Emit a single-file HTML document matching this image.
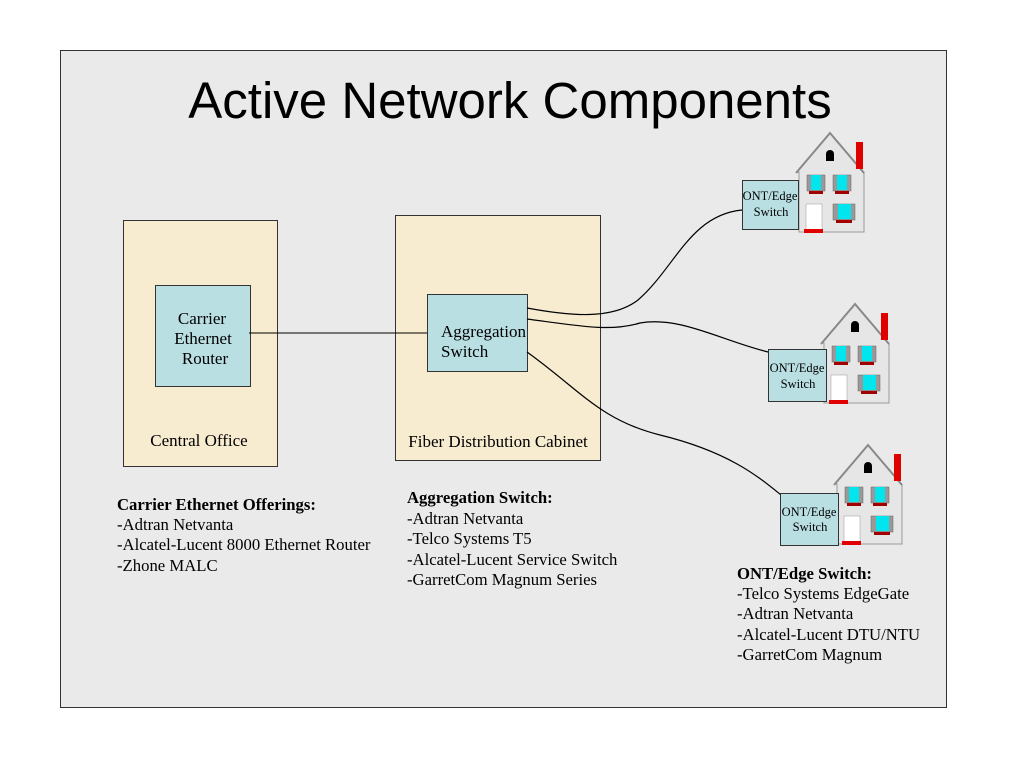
<!DOCTYPE html>
<html><head><style>
body{margin:0;background:#fff;width:1024px;height:768px;overflow:hidden}
svg text{font-family:"Liberation Serif",serif}
</style></head><body>
<svg width="1024" height="768" viewBox="0 0 1024 768">
<defs>
<g id="house">
<polygon points="0,0 -33,39 -31,39 -31,99 34,99 34,39 33,39" fill="#e6e6e6" stroke="#999" stroke-width="1"/>
<polyline points="-34,40 0,0 34,40" fill="none" stroke="#888" stroke-width="2"/>
<rect x="26" y="9" width="7" height="27" fill="#e00000"/>
<path d="M-4,28 V21 A4,4 0 0 1 4,21 V28 Z" fill="#000"/>
<rect x="-23" y="42" width="18" height="16" fill="#999" stroke="#666" stroke-width="0.5"/><rect x="-19" y="42" width="10" height="15" fill="#00e5ee"/><rect x="-21" y="58" width="14" height="3" fill="#a00000"/>
<rect x="3" y="42" width="18" height="16" fill="#999" stroke="#666" stroke-width="0.5"/><rect x="7" y="42" width="10" height="15" fill="#00e5ee"/><rect x="5" y="58" width="14" height="3" fill="#a00000"/>
<rect x="3" y="71" width="22" height="16" fill="#999" stroke="#666" stroke-width="0.5"/><rect x="8" y="71" width="13" height="15" fill="#00e5ee"/><rect x="6" y="87" width="16" height="3" fill="#a00000"/>
<rect x="-24" y="71" width="16" height="26" fill="#fff" stroke="#999" stroke-width="0.5"/><rect x="-26" y="96" width="19" height="4" fill="#e00000"/>
</g>
</defs>
<rect x="60.5" y="50.5" width="886" height="657" fill="#eaeaea" stroke="#333"/>
<text x="510" y="118" font-size="51" text-anchor="middle" style="font-family:'Liberation Sans',sans-serif">Active Network Components</text>
<rect x="123.5" y="220.5" width="154" height="246" fill="#f7ecd0" stroke="#333"/>
<rect x="395.5" y="215.5" width="205" height="245" fill="#f7ecd0" stroke="#333"/>
<rect x="155.5" y="285.5" width="95" height="101" fill="#b9dfe3" stroke="#333"/>
<rect x="427.5" y="294.5" width="100" height="77" fill="#b9dfe3" stroke="#333"/>
<line x1="249" y1="333" x2="427" y2="333" stroke="#000"/>
<g fill="none" stroke="#000" stroke-width="1.2">
<path d="M527,308 C570,316 612,320 638,300 C675,268 690,215 742,210"/>
<path d="M527,319 C580,326 610,332 640,323 C680,316 720,340 768,352"/>
<path d="M527,352 C580,390 600,420 660,435 C730,452 760,478 781,495"/>
</g>
<use href="#house" x="830" y="133"/>
<use href="#house" x="855" y="304"/>
<use href="#house" x="868" y="445"/>
<rect x="742.5" y="180.5" width="56" height="49" fill="#b9dfe3" stroke="#333"/>
<rect x="768.5" y="349.5" width="58" height="52" fill="#b9dfe3" stroke="#333"/>
<rect x="780.5" y="493.5" width="58" height="52" fill="#b9dfe3" stroke="#333"/>
<g font-size="17">
<text x="202" y="324" text-anchor="middle">Carrier</text>
<text x="203" y="344" text-anchor="middle">Ethernet</text>
<text x="205" y="364" text-anchor="middle">Router</text>
<text x="441" y="337">Aggregation</text>
<text x="441" y="357">Switch</text>
<text x="199" y="446" text-anchor="middle">Central Office</text>
<text x="498" y="447" text-anchor="middle">Fiber Distribution Cabinet</text>
</g>
<g font-size="12.5" text-anchor="middle">
<text x="770" y="200">ONT/Edge</text><text x="771" y="216">Switch</text>
<text x="797" y="372">ONT/Edge</text><text x="798" y="388">Switch</text>
<text x="809" y="516">ONT/Edge</text><text x="810" y="531">Switch</text>
</g>
<g font-size="16.7">
<text x="117" y="510" font-weight="bold">Carrier Ethernet Offerings:</text>
<text x="117" y="530">-Adtran Netvanta</text>
<text x="117" y="550">-Alcatel-Lucent 8000 Ethernet Router</text>
<text x="117" y="571">-Zhone MALC</text>
<text x="407" y="503" font-weight="bold">Aggregation Switch:</text>
<text x="407" y="524">-Adtran Netvanta</text>
<text x="407" y="544">-Telco Systems T5</text>
<text x="407" y="565">-Alcatel-Lucent Service Switch</text>
<text x="407" y="585">-GarretCom Magnum Series</text>
<text x="737" y="579" font-weight="bold">ONT/Edge Switch:</text>
<text x="737" y="599">-Telco Systems EdgeGate</text>
<text x="737" y="619">-Adtran Netvanta</text>
<text x="737" y="640">-Alcatel-Lucent DTU/NTU</text>
<text x="737" y="660">-GarretCom Magnum</text>
</g>
</svg>
</body></html>
